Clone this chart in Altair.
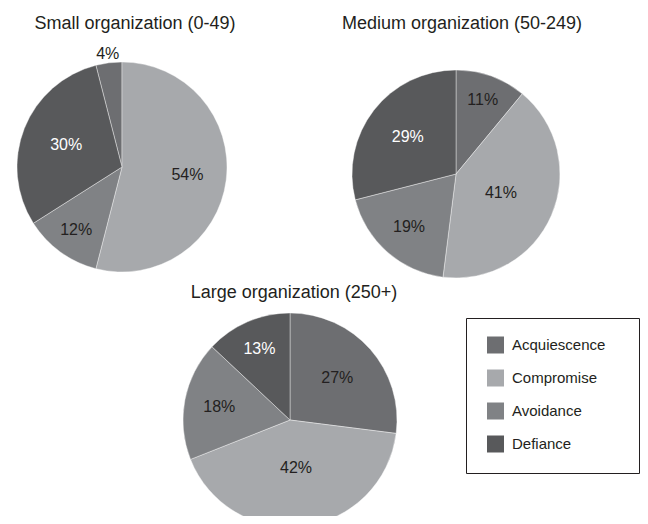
import altair as alt
import pandas as pd
import math

categories = ["Acquiescence", "Compromise", "Avoidance", "Defiance"]
colors = ["#6d6e71", "#a7a9ac", "#808285", "#58595b"]

small_values = [4, 54, 12, 30]
medium_values = [11, 41, 19, 29]
large_values = [27, 42, 18, 13]

# slice order, clockwise from 12 o'clock
small_order = ["Compromise", "Avoidance", "Defiance", "Acquiescence"]
default_order = ["Acquiescence", "Compromise", "Avoidance", "Defiance"]

titles = ["Small organization (0-49)", "Medium organization (50-249)", "Large organization (250+)"]

FONT = "Liberation Sans"


def make_df(values, order):
    return pd.DataFrame({
        "category": categories,
        "pct": values,
        "rank": [order.index(c) for c in categories],
        "label": [f"{v}%" for v in values],
    })


color = alt.Color(
    "category:N",
    scale=alt.Scale(domain=categories, range=colors),
    legend=alt.Legend(
        orient="none", legendX=479, legendY=328.5, title=None,
        symbolType="square", symbolSize=289, symbolStrokeWidth=0, symbolOpacity=1,
        labelFontSize=15, labelFont=FONT, labelColor="#231f20",
        rowPadding=16, labelOffset=8, padding=0,
    ),
)

theta_scale = alt.Scale(domain=[0, 100], range=[0, 2 * math.pi])


def pie(df, cx, cy, r):
    arc = alt.Chart(df).mark_arc(radius=r, stroke="#ffffff", strokeWidth=0.4).encode(
        theta=alt.Theta("pct:Q", stack=True, scale=theta_scale),
        order=alt.Order("rank:Q"),
        color=color, x=alt.value(cx), y=alt.value(cy),
    )
    txt = alt.Chart(df).transform_window(
        cum="sum(pct)", sort=[alt.SortField("rank", order="ascending")]
    ).transform_calculate(
        mid="datum.cum - datum.pct / 2",
        rr="datum.pct < 5 ? 114 : (datum.pct > 50 ? 66 : 90 - datum.pct)",
    ).mark_text(fontSize=16, font=FONT, baseline="middle", align="center").encode(
        theta=alt.Theta("mid:Q", stack=None, scale=theta_scale),
        text="label:N",
        radius=alt.Radius("rr:Q", scale=None),
        x=alt.value(cx), y=alt.value(cy),
        color=alt.condition("datum.category == 'Defiance'", alt.value("white"), alt.value("#231f20")),
    )
    return arc + txt


one = pd.DataFrame({"a": [0]})


def title_mark(text, x, y):
    return alt.Chart(one).mark_text(
        text=text, fontSize=18, font=FONT, align="center", baseline="alphabetic", color="#231f20"
    ).encode(x=alt.value(x), y=alt.value(y))


box = alt.Chart(one).mark_rect(fill="white", stroke="#231f20", strokeWidth=1).encode(
    x=alt.value(458.5), x2=alt.value(631.5), y=alt.value(310.5), y2=alt.value(465.5)
)

chart = alt.layer(
    box,
    pie(make_df(small_values, small_order), 114, 159, 105),
    pie(make_df(medium_values, default_order), 448, 166, 104),
    pie(make_df(large_values, default_order), 282, 412, 107),
    title_mark(titles[0], 127, 21),
    title_mark(titles[1], 454, 21),
    title_mark(titles[2], 286, 290),
).properties(
    width=632, height=508, autosize=alt.AutoSizeParams(type="none"), padding=0
).configure_view(stroke=None)

chart.save("out.html", embed_options={"renderer": "svg", "actions": False})
